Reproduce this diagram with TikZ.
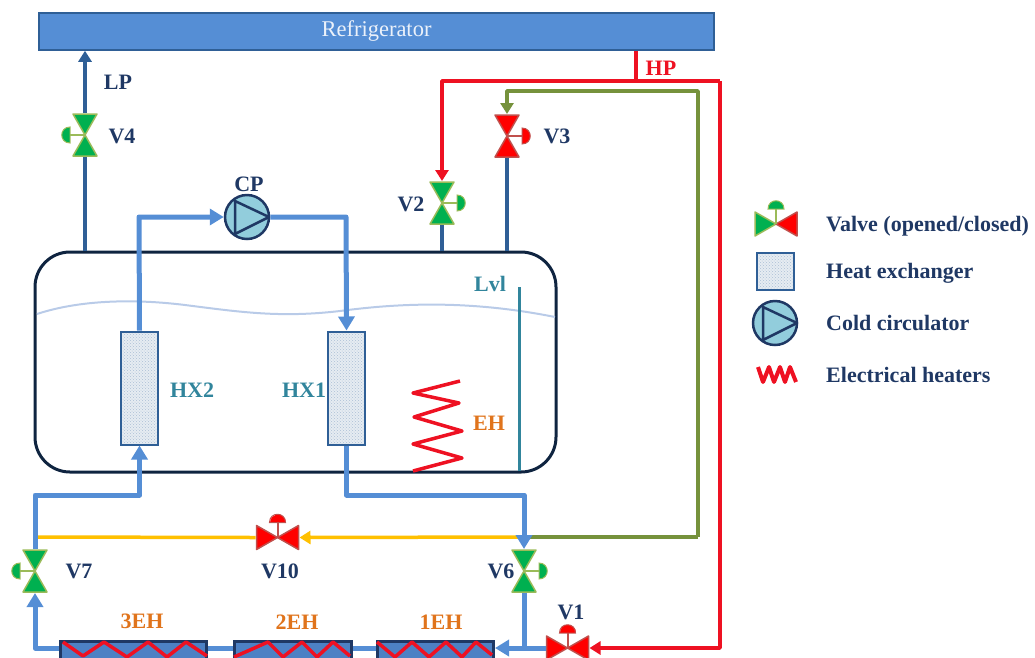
\documentclass[tikz,border=0pt]{standalone}
\usepackage{fontspec}
\setmainfont{Liberation Serif}
\usetikzlibrary{arrows.meta,patterns,calc}
\definecolor{navy}{HTML}{1F3864}
\definecolor{pipeblue}{HTML}{558ED5}
\definecolor{darkpipe}{HTML}{2F5F96}
\definecolor{tankline}{HTML}{0F2440}
\definecolor{teal}{HTML}{31859C}
\definecolor{heatorange}{HTML}{E0741C}
\definecolor{openfill}{HTML}{00B050}
\definecolor{openedge}{HTML}{9BBB59}
\definecolor{closedfill}{HTML}{FF0000}
\definecolor{closededge}{HTML}{C0504D}
\definecolor{hpred}{HTML}{EE1122}
\definecolor{coldgreen}{HTML}{76923C}
\definecolor{hotyellow}{HTML}{FFC000}
\definecolor{waterline}{HTML}{B9CBE8}
\definecolor{pumpfill}{HTML}{92CDDC}
\tikzset{
  lbl/.style={font=\fontsize{22}{26}\selectfont\bfseries,text=navy,inner sep=0pt},
  tealbl/.style={lbl,text=teal},
  orangelbl/.style={lbl,text=heatorange},
  legendlbl/.style={lbl,anchor=base west},
  hxbox/.style={draw=darkpipe,line width=2pt,minimum width=37pt,minimum height=113pt,inner sep=0pt,
    preaction={fill=darkpipe!12},pattern=crosshatch dots,pattern color=darkpipe!40},
  ehbox/.style={draw=navy,line width=3pt,fill=pipeblue!85!navy,minimum width=#1,minimum height=30pt,inner sep=0pt},
  pumpbox/.style={circle,draw=navy,line width=2.5pt,fill=pumpfill,minimum size=44pt,inner sep=0pt},
  bluepipe/.style={draw=pipeblue,line width=5pt,line join=round},
  lppipe/.style={draw=darkpipe,line width=3.5pt},
  redpipe/.style={draw=hpred,line width=3.5pt,line join=round},
  greenpipe/.style={draw=coldgreen,line width=3.5pt,line join=round},
  yellowpipe/.style={draw=hotyellow,line width=3.5pt},
  heater/.style={draw=hpred,line width=3.5pt,line join=round},
  tip/.style={-{Triangle[length=14pt,width=16pt]}},
  smalltip/.style={-{Triangle[length=11pt,width=13pt]}},
  pics/valve/.style n args={4}{code={
    \fill[#1,draw=#2,line width=1.5pt,line join=round] (0,0) -- (-12,-21) -- (12,-21) -- cycle;
    \fill[#3,draw=#4,line width=1.5pt,line join=round] (0,0) -- (-12,21) -- (12,21) -- cycle;
    \draw[#2,line width=2pt] (0,0) -- (15,0);
    \fill[#1,draw=#2,line width=1pt] (15,-8) .. controls (26,-8) and (26,8) .. (15,8) -- cycle;
    \coordinate (-a) at (0,-22);
    \coordinate (-b) at (0,22);
  }},
  pics/pumpmark/.style={code={
    \draw[navy,line width=2.5pt,line join=round] (-12,-16) -- (-12,17) -- (22,0) -- cycle;
  }},
}
\begin{document}
\begin{tikzpicture}[x=1pt,y=-1pt]
\useasboundingbox (0,0) rectangle (1035,657);

% cold box
\node[draw=tankline,line width=3pt,rounded corners=35pt,minimum width=521pt,minimum height=220pt,inner sep=0pt] (tank) at (295.5,362) {};
\draw[waterline,line width=2pt] (37,314) .. controls (70,303) and (120,297) .. (185,305)
  .. controls (240,312) and (280,318) .. (340,311) .. controls (400,303) and (470,300) .. (555,317);

% refrigerator
\node[draw=darkpipe,line width=1.5pt,fill=pipeblue,minimum width=675pt,minimum height=37pt,inner sep=0pt,
  text=white!88!pipeblue,font=\fontsize{22.5}{26}\selectfont] (ref) at (376.5,31.5) {Refrigerator};

% heat exchangers, circulator, line heaters
\node[hxbox] (hx2) at (139.5,388) {};
\node[hxbox] (hx1) at (346.5,388) {};
\node[pumpbox] (cp) at (247,217) {};
\pic at (cp) {pumpmark};
\node[ehbox=146pt] (eh3) at (133.5,656) {};
\node[ehbox=117pt] (eh2) at (292.5,656) {};
\node[ehbox=116pt] (eh1) at (435.5,656) {};

% valves
\pic[xscale=-1] (v4) at (85,135) {valve={openfill}{openedge}{openfill}{openedge}};
\pic (v3) at (507,136) {valve={closedfill}{closededge}{closedfill}{closededge}};
\pic (v2) at (442,203) {valve={openfill}{openedge}{openfill}{openedge}};
\pic (v6) at (524,571) {valve={openfill}{openedge}{openfill}{openedge}};
\pic[xscale=-1] (v7) at (35,571) {valve={openfill}{openedge}{openfill}{openedge}};
\pic[rotate=90] (v10) at (277.5,537.5) {valve={closedfill}{closededge}{closedfill}{closededge}};
\pic[rotate=90] (v1) at (567.5,648) {valve={closedfill}{closededge}{closedfill}{closededge}};

% bends
\coordinate (a1) at (139,217);
\coordinate (a2) at (346,217);
\coordinate (a3) at (524,495);
\coordinate (a4) at (35,495);
\coordinate (a5) at (35,648);
\coordinate (r1) at (636,81);
\coordinate (r2) at (442,81);
\coordinate (r3) at (720,81);
\coordinate (r4) at (720,648);
\coordinate (g1) at (698,91);
\coordinate (g2) at (507,91);
\coordinate (g3) at (698,537);
\coordinate (g4) at (524,537);
\coordinate (y1) at (37,537);

% warm side
\draw[redpipe] (ref.south -| r1) -- (r1);
\draw[redpipe,smalltip] (r3) -- (r2) -- (v2-a);
\draw[redpipe,smalltip] (r3) -- (r4) -- (v1-b);
\draw[greenpipe,smalltip] (g3) -- (g1) -- (g2) -- (v3-a);
\draw[yellowpipe] (v10-a) -- (y1);
\draw[yellowpipe,smalltip] (g4) -- (v10-b);
\draw[greenpipe] (g4) -- (g3);

% cold side
\draw[lppipe] (tank.north -| v4-b) -- (v4-b);
\draw[lppipe,smalltip] (v4-a) -- (ref.south -| v4-a);
\draw[lppipe] (tank.north -| v2-b) -- (v2-b);
\draw[lppipe] (tank.north -| v3-b) -- (v3-b);
\draw[bluepipe,tip] (hx2.north) -- (a1) -- (cp.west);
\draw[bluepipe,tip] (cp.east) -- (a2) -- (hx1.north);
\draw[bluepipe,tip] (hx1.south) |- (a3) -- (v6-a);
\draw[bluepipe,tip] (v7-a) -- (a4) -| (hx2.south);
\draw[bluepipe] (v6-b) -- (v6-b |- v1-a);
\draw[bluepipe,tip] (v1-a) -- (eh1.east |- v1-a);
\draw[bluepipe] (eh1.west |- v1-a) -- (eh2.east |- v1-a);
\draw[bluepipe] (eh2.west |- v1-a) -- (eh3.east |- v1-a);
\draw[bluepipe,tip] (eh3.west |- a5) -- (a5) -- (v7-b);

% heaters
\draw[heater] (460,381) -- (413,393) -- (459,403) -- (414,417) -- (462,431) -- (413,444) -- (462,458) -- (413,471);
\begin{scope}
\clip (0,600) rectangle (600,657);
\draw[heater] (63,642) -- (83,656) -- (104,642) -- (127,657) -- (148,642) -- (167,657) -- (186,642) -- (207,656);
\draw[heater] (234,657) -- (268,642) -- (283,657) -- (302,642) -- (317,657) -- (333,642) -- (350,656);
\draw[heater] (377,642) -- (395,657) -- (412,642) -- (429,657) -- (446,642) -- (462,657) -- (476,642) -- (492,655);
\end{scope}

% level probe
\draw[teal,line width=3pt] (519,287) -- (519,471);

% labels
\node[lbl] (lplbl) at (118,82) {LP};
\node[lbl] (v4lbl) at (122,136) {V4};
\node[lbl] (cplbl) at (249,184) {CP};
\node[lbl] (v2lbl) at (411,204) {V2};
\node[lbl] (v3lbl) at (557,136) {V3};
\node[lbl,text=hpred] (hplbl) at (661,68) {HP};
\node[lbl] (v7lbl) at (79,571) {V7};
\node[lbl] (v10lbl) at (280,571) {V10};
\node[lbl] (v6lbl) at (501,571) {V6};
\node[lbl] (v1lbl) at (571,612) {V1};
\node[tealbl] (hx2lbl) at (192,390) {HX2};
\node[tealbl] (hx1lbl) at (304,390) {HX1};
\node[tealbl] (lvllbl) at (490,284) {Lvl};
\node[orangelbl] (ehlbl) at (489,423) {EH};
\node[orangelbl] (eh3lbl) at (142,621) {3EH};
\node[orangelbl] (eh2lbl) at (297,622) {2EH};
\node[orangelbl] (eh1lbl) at (441,622) {1EH};

% legend
\pic[rotate=90] (lgv) at (776,224) {valve={openfill}{openedge}{closedfill}{closededge}};
\node[hxbox,minimum height=37pt] (lghx) at (775.5,271.5) {};
\node[pumpbox] (lgcp) at (775,323) {};
\pic at (lgcp) {pumpmark};
\draw[heater,line width=4pt] (758,367) -- (763,382) -- (769,367) -- (774,382) -- (780,367) -- (785,382) -- (790,367) -- (796,382);
\node[legendlbl] (lg1) at (826,231) {Valve (opened/closed)};
\node[legendlbl] (lg2) at (826,278) {Heat exchanger};
\node[legendlbl] (lg3) at (826,330) {Cold circulator};
\node[legendlbl] (lg4) at (826,382) {Electrical heaters};
\end{tikzpicture}
\end{document}
